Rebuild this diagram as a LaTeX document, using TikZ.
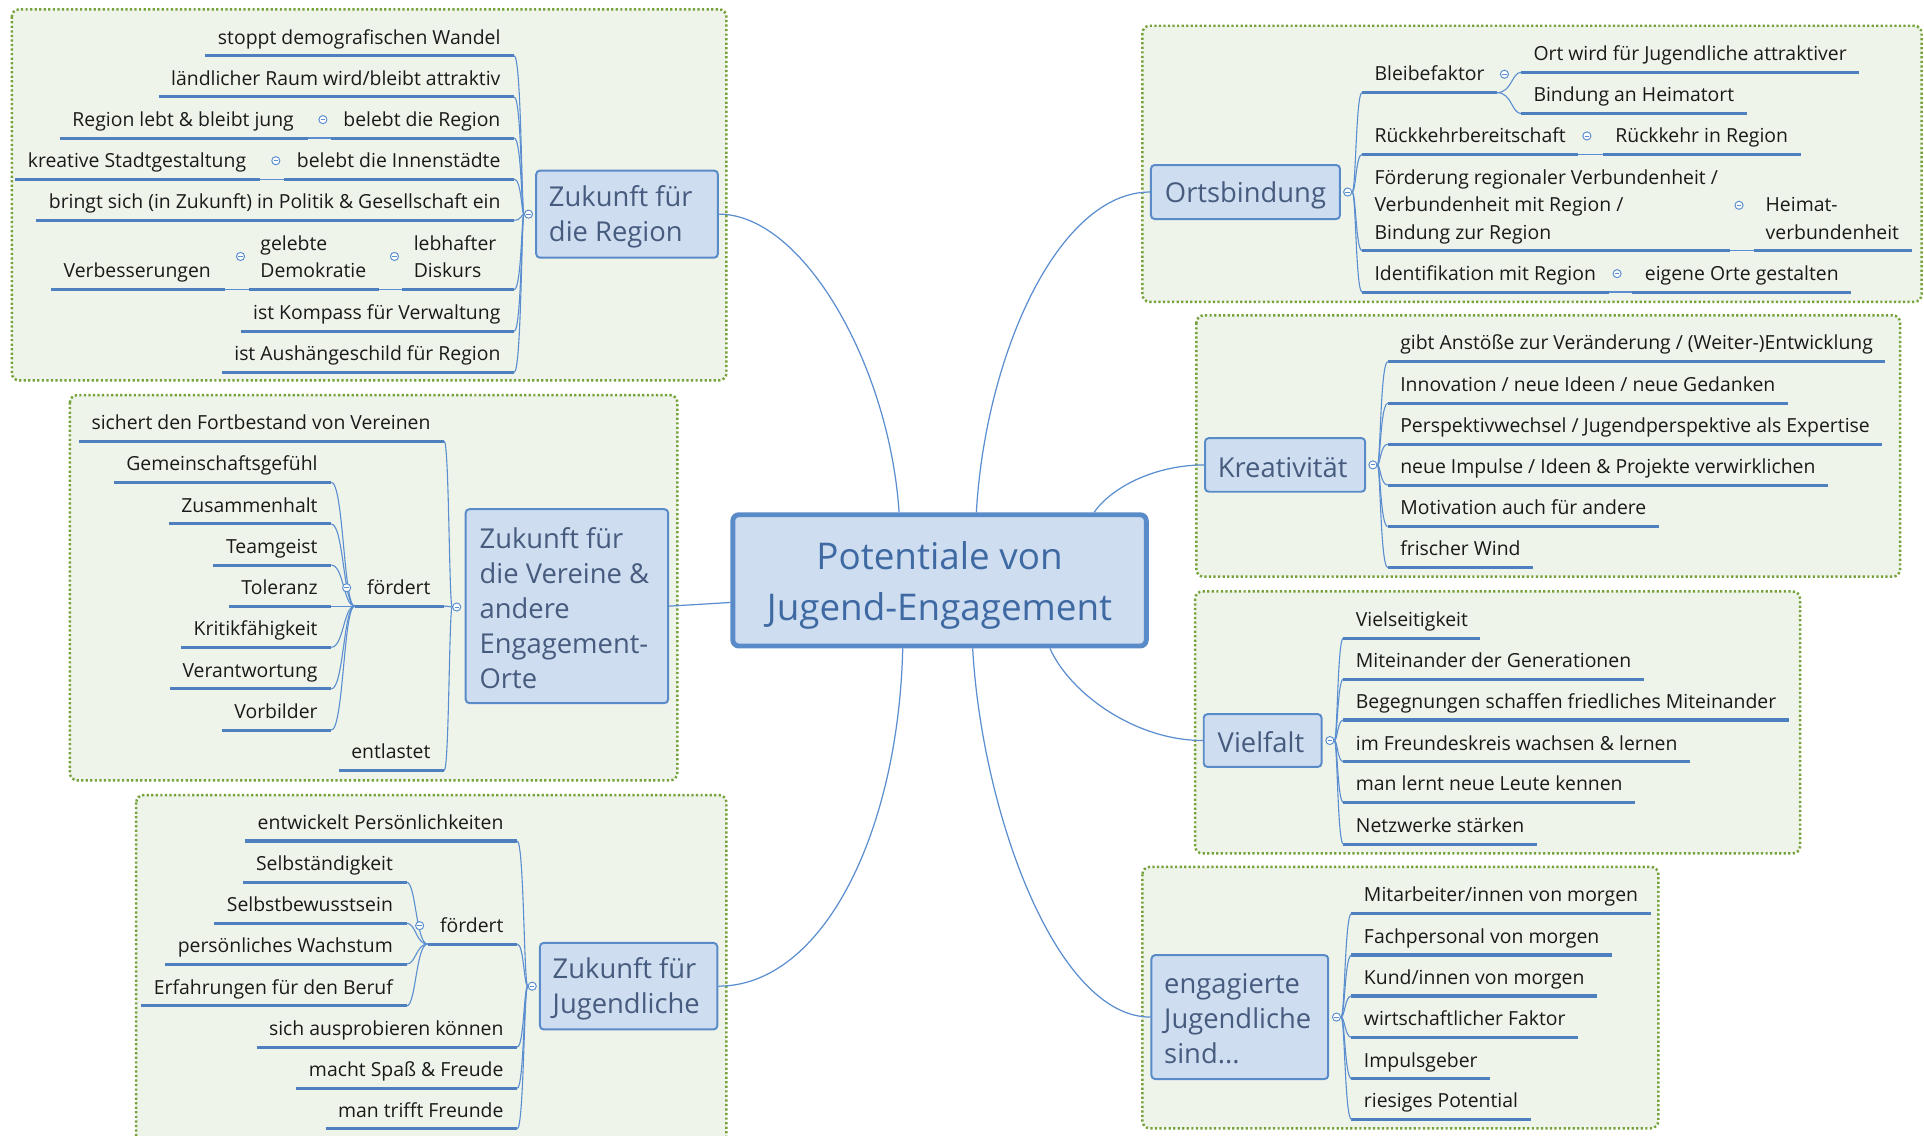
\documentclass[tikz,border=0pt]{standalone}
\usepackage{fontspec}
\setmainfont{Open Sans}
\usetikzlibrary{calc}
\definecolor{frameG}{HTML}{76A23C}
\definecolor{frameF}{HTML}{EFF4EA}
\definecolor{topF}{HTML}{CEDEF0}
\definecolor{topD}{HTML}{5A8BC9}
\definecolor{topT}{HTML}{465B7E}
\definecolor{cenT}{HTML}{3E69A2}
\definecolor{ulc}{HTML}{4E80C0}
\definecolor{thinc}{HTML}{5B8ED0}
\definecolor{leafT}{HTML}{1A1A1A}
\tikzset{
  grp/.style={draw=frameG, fill=frameF, line width=2pt, dash pattern=on 1.8pt off 1.9pt, rounded corners=6pt},
  topic/.style={draw=topD, fill=topF, line width=1.6pt, rounded corners=3pt, inner sep=0pt},
  ttext/.style={text=topT, font=\fontsize{22.3}{28.5}\selectfont, align=left, inner sep=0pt, anchor=west},
  central/.style={draw=topD, fill=topF, line width=4pt, rounded corners=5pt, inner sep=0pt},
  ctext/.style={inner sep=0pt, text=cenT, align=center, font=\fontsize{30}{42}\selectfont},
  leaf/.style={font=\fontsize{15.8}{22}\selectfont, text=leafT, inner sep=0pt},
  ul/.style={draw=ulc, line width=2.5pt},
  cn/.style={draw=thinc, line width=0.9pt},
  mcn/.style={draw=thinc, line width=1pt},
  coll/.style={circle, draw=thinc, fill=white, line width=0.8pt, minimum size=6.6pt, inner sep=0pt},
}
\newcommand\leafW[3]{%
  \coordinate (#1-l) at #2;
  \node[leaf, anchor=base west] (#1) at ($(#1-l)+(10,-9.5)$) {#3};
  \coordinate (#1-r) at ($(#1.base east)+(10,9.5)$);
  \draw[ul] (#1-l) -- (#1-r);}
\newcommand\leafE[3]{%
  \coordinate (#1-r) at #2;
  \node[leaf, anchor=base east] (#1) at ($(#1-r)+(-11,-9.5)$) {#3};
  \coordinate (#1-l) at ($(#1.base west)+(-10,9.5)$);
  \draw[ul] (#1-l) -- (#1-r);}
\newcommand\collmark[2]{%
  \node[coll] (#1) at #2 {};
  \draw[thinc, line width=0.7pt] ($(#1.center)+(-1.8,0)$) -- ($(#1.center)+(1.8,0)$);}
\newcommand\br[3]{\draw[cn] (#1) .. controls (#2 |- #1) and (#2 |- #3) .. (#3);}
\begin{document}
\begin{tikzpicture}[x=1pt,y=-1pt]
\useasboundingbox (0,0) rectangle (1568,925);
\clip (0,0) rectangle (1568,925);
\fill[white] (0,0) rectangle (1568,925);
% group frames
\draw[grp] (9.6,7.6) rectangle (592,310);
\draw[grp] (57,322) rectangle (552,636);
\draw[grp] (111,648) rectangle (592,945);
\draw[grp] (931,21) rectangle (1566,246);
\draw[grp] (975,257) rectangle (1548.5,470);
\draw[grp] (974,482) rectangle (1467,695.5);
\draw[grp] (931,706.5) rectangle (1351.5,919.5);
% central and topics
\node[central, minimum width=337, minimum height=107] (C) at (765.7,473) {};
\node[ctext] (Ct) at ($(C.center)+(0,4)$) {Potentiale von\\Jugend-Engagement};
\node[topic, minimum width=148, minimum height=71] (T1) at (511,174.5) {};
\node[ttext] (T1t) at ($(T1.west)+(11,2.5)$) {Zukunft für\\die Region};
\node[topic, minimum width=165, minimum height=158] (T2) at (462,494) {};
\node[ttext] (T2t) at ($(T2.west)+(12,1.5)$) {Zukunft für\\die Vereine \&\\andere\\Engagement-\\Orte};
\node[topic, minimum width=144.5, minimum height=70.5] (T3) at (512.3,803.7) {};
\node[ttext] (T3t) at ($(T3.west)+(11,2.5)$) {Zukunft für\\Jugendliche};
\node[topic, minimum width=154, minimum height=44] (T4) at (1015,156.5) {};
\node[ttext] (T4t) at ($(T4.west)+(12,2.5)$) {Ortsbindung};
\node[topic, minimum width=130.5, minimum height=43.7] (T5) at (1047.3,378.9) {};
\node[ttext] (T5t) at ($(T5.west)+(11,2)$) {Kreativität};
\node[topic, minimum width=96, minimum height=43] (T6) at (1029,603.5) {};
\node[ttext] (T6t) at ($(T6.west)+(12,1.5)$) {Vielfalt};
\node[topic, minimum width=144, minimum height=101] (T7) at (1010.4,828.9) {};
\node[ttext] (T7t) at ($(T7.west)+(11,1.5)$) {engagierte\\Jugendliche\\sind...};
% main connectors
\draw[mcn] ($(C.north)+(-33,0)$) .. controls (725,299) and (655,174.5) .. (T1.east);
\draw[mcn] ($(C.west)+(0,18)$) -- (T2.east);
\draw[mcn] ($(C.south)+(-30,0)$) .. controls (732,680) and (670,803.7) .. (T3.east);
\draw[mcn] ($(C.north)+(30,0)$) .. controls (803,290) and (862,156.5) .. (T4.west);
\draw[mcn] ($(C.north)+(126,0)$) .. controls (905,398) and (940,379) .. (T5.west);
\draw[mcn] ($(C.south)+(90,0)$) .. controls (872,565) and (925,603.5) .. (T6.west);
\draw[mcn] ($(C.south)+(27,0)$) .. controls (800,660) and (860,829) .. (T7.west);
% topic collapse markers
\collmark{k1}{($(T1.west)+(-5.5,0)$)}
\collmark{k2}{($(T2.west)+(-6.5,0.7)$)}
\collmark{k3}{($(T3.west)+(-5.5,0)$)}
\collmark{k4}{($(T4.east)+(5.5,0)$)}
\collmark{k5}{($(T5.east)+(5.5,0)$)}
\collmark{k6}{($(T6.east)+(6,0)$)}
\collmark{k7}{($(T7.east)+(6,0)$)}
% ---------- group 1
\coordinate (s1) at (425,0);
\leafE{L1a}{(419,45.4)}{stoppt demografischen Wandel}
\leafE{L1b}{(419,79)}{ländlicher Raum wird/bleibt attraktiv}
\leafE{L1c}{(419,112.5)}{belebt die Region}
\leafE{L1c1}{($(L1c-l)+(-19,0)$)}{Region lebt \& bleibt jung}
\draw[cn] (L1c-l) -- (L1c1-r);
\collmark{k1c}{($(L1c-l)+(-6.5,-15)$)}
\leafE{L1d}{(419,146)}{belebt die Innenstädte}
\leafE{L1d1}{($(L1d-l)+(-20,0)$)}{kreative Stadtgestaltung}
\draw[cn] (L1d-l) -- (L1d1-r);
\collmark{k1d}{($(L1d-l)+(-7,-15)$)}
\leafE{L1e}{(419,179.5)}{bringt sich (in Zukunft) in Politik \& Gesellschaft ein}
\coordinate (L1f-r) at (419,236);
\coordinate (L1f-l) at (328,236);
\node[leaf, anchor=base west] (L1f) at (337,204.5) {lebhafter};
\node[leaf, anchor=base west] (L1f2) at (337,226.5) {Diskurs};
\draw[ul] (L1f-l) -- (L1f-r);
\coordinate (L1g1-r) at (309,236);
\coordinate (L1g1-l) at (203,236);
\node[leaf, anchor=base west] (L1g1) at (212,204.5) {gelebte};
\node[leaf, anchor=base west] (L1g12) at (212,226.5) {Demokratie};
\draw[ul] (L1g1-l) -- (L1g1-r);
\draw[cn] (L1f-l) -- (L1g1-r);
\collmark{k1f}{(321.5,209)}
\leafE{L1v}{(183,236)}{Verbesserungen}
\draw[cn] (L1g1-l) -- (L1v-r);
\collmark{k1g}{(196,209)}
\leafE{L1g}{(419,270)}{ist Kompass für Verwaltung}
\leafE{L1h}{(419,303.5)}{ist Aushängeschild für Region}
\foreach \n in {L1a,L1b,L1c,L1d,L1e,L1f,L1g,L1h} {\br{k1.west}{s1}{\n-r}}
% ---------- group 2
\coordinate (s2) at (366,0);
\leafE{L2a}{(362,359.5)}{sichert den Fortbestand von Vereinen}
\leafE{L2b}{(362,494)}{fördert}
\leafE{L2c}{(362,628)}{entlastet}
\foreach \n in {L2a,L2b,L2c} {\br{k2.west}{s2}{\n-r}}
\coordinate (s2b) at (280,0);
\leafE{L2b1}{(270,393)}{Gemeinschaftsgefühl}
\leafE{L2b2}{(270,427)}{Zusammenhalt}
\leafE{L2b3}{(270,460.5)}{Teamgeist}
\leafE{L2b4}{(270,494)}{Toleranz}
\leafE{L2b5}{(270,527.5)}{Kritikfähigkeit}
\leafE{L2b6}{(270,561.4)}{Verantwortung}
\leafE{L2b7}{(270,595)}{Vorbilder}
\foreach \n in {1,...,7} {\br{L2b-l}{s2b}{L2b\n-r}}
\collmark{k2b}{($(L2b-l)+(-6.5,-15)$)}
% ---------- group 3
\coordinate (s3) at (427,0);
\leafE{L3a}{(421.5,685.4)}{entwickelt Persönlichkeiten}
\leafE{L3b}{(421.5,769.4)}{fördert}
\leafE{L3c}{(421.5,853.3)}{sich ausprobieren können}
\leafE{L3d}{(421.5,886.9)}{macht Spaß \& Freude}
\leafE{L3e}{(421.5,920)}{man trifft Freunde}
\foreach \n in {L3a,L3b,L3c,L3d,L3e} {\br{k3.west}{s3}{\n-r}}
\coordinate (s3b) at (339,0);
\leafE{L3b1}{(331.4,719)}{Selbständigkeit}
\leafE{L3b2}{(331.4,752.4)}{Selbstbewusstsein}
\leafE{L3b3}{(331.4,785.7)}{persönliches Wachstum}
\leafE{L3b4}{(331.4,819.8)}{Erfahrungen für den Beruf}
\foreach \n in {1,...,4} {\br{L3b-l}{s3b}{L3b\n-r}}
\collmark{k3b}{($(L3b-l)+(-6.5,-15)$)}
% ---------- group 4
\coordinate (s4) at (1105,0);
\leafW{L4a}{(1110,75.5)}{Bleibefaktor}
\coordinate (s4a) at ($(L4a-r)+(12,0)$);
\leafW{L4a1}{($(L4a-r)+(19.5,-16.5)$)}{Ort wird für Jugendliche attraktiver}
\leafW{L4a2}{($(L4a-r)+(19.5,17)$)}{Bindung an Heimatort}
\br{L4a-r}{s4a}{L4a1-l}
\br{L4a-r}{s4a}{L4a2-l}
\collmark{k4a}{($(L4a-r)+(6,-15)$)}
\leafW{L4b}{(1110,125.8)}{Rückkehrbereitschaft}
\leafW{L4b1}{($(L4b-r)+(20,0)$)}{Rückkehr in Region}
\draw[cn] (L4b-r) -- (L4b1-l);
\collmark{k4b}{($(L4b-r)+(7,-15)$)}
\coordinate (L4c-l) at (1110,204.3);
\node[leaf, anchor=base west] (L4c) at (1120,150.4) {Förderung regionaler Verbundenheit /};
\node[leaf, anchor=base west] (L4c2) at (1120,172.6) {Verbundenheit mit Region /};
\node[leaf, anchor=base west] (L4c3) at (1120,194.8) {Bindung zur Region};
\coordinate (L4c-r) at ($(L4c.base east |- L4c-l)+(10,0)$);
\draw[ul] (L4c-l) -- (L4c-r);
\coordinate (L4c1-l) at ($(L4c-r)+(19.5,0)$);
\node[leaf, anchor=base west] (L4c1) at ($(L4c1-l)+(9,-31.7)$) {Heimat-};
\node[leaf, anchor=base west] (L4c12) at ($(L4c1-l)+(9,-9.5)$) {verbundenheit};
\coordinate (L4c1-r) at ($(L4c12.base east |- L4c1-l)+(10,0)$);
\draw[ul] (L4c1-l) -- (L4c1-r);
\draw[cn] (L4c-r) -- (L4c1-l);
\collmark{k4c}{($(L4c-r)+(7,-37)$)}
\leafW{L4d}{(1110,238)}{Identifikation mit Region}
\leafW{L4d1}{($(L4d-r)+(19.5,0)$)}{eigene Orte gestalten}
\draw[cn] (L4d-r) -- (L4d1-l);
\collmark{k4d}{($(L4d-r)+(7,-15)$)}
\foreach \n in {L4a,L4b,L4c,L4d} {\br{k4.east}{s4}{\n-l}}
% ---------- group 5
\coordinate (s5) at (1125,0);
\leafW{L5a}{(1131,294.7)}{gibt Anstöße zur Veränderung / (Weiter-)Entwicklung}
\leafW{L5b}{(1131,328.7)}{Innovation / neue Ideen / neue Gedanken}
\leafW{L5c}{(1131,362)}{Perspektivwechsel / Jugendperspektive als Expertise}
\leafW{L5d}{(1131,395.3)}{neue Impulse / Ideen \& Projekte verwirklichen}
\leafW{L5e}{(1131,429.2)}{Motivation auch für andere}
\leafW{L5f}{(1131,462.6)}{frischer Wind}
\foreach \n in {L5a,L5b,L5c,L5d,L5e,L5f} {\br{k5.east}{s5}{\n-l}}
% ---------- group 6
\coordinate (s6) at (1090,0);
\leafW{L6a}{(1094.8,520)}{Vielseitigkeit}
\leafW{L6b}{(1094.8,553.4)}{Miteinander der Generationen}
\leafW{L6c}{(1094.8,586.8)}{Begegnungen schaffen friedliches Miteinander}
\leafW{L6d}{(1094.8,620.8)}{im Freundeskreis wachsen \& lernen}
\leafW{L6e}{(1094.8,653.9)}{man lernt neue Leute kennen}
\leafW{L6f}{(1094.8,687.9)}{Netzwerke stärken}
\foreach \n in {L6a,L6b,L6c,L6d,L6e,L6f} {\br{k6.east}{s6}{\n-l}}
% ---------- group 7
\coordinate (s7) at (1096,0);
\leafW{L7a}{(1101.4,744.4)}{Mitarbeiter/innen von morgen}
\leafW{L7b}{(1101.4,778.3)}{Fachpersonal von morgen}
\leafW{L7c}{(1101.4,811.7)}{Kund/innen von morgen}
\leafW{L7d}{(1101.4,845.4)}{wirtschaftlicher Faktor}
\leafW{L7e}{(1101.4,879.1)}{Impulsgeber}
\leafW{L7f}{(1101.4,912.3)}{riesiges Potential}
\foreach \n in {L7a,L7b,L7c,L7d,L7e,L7f} {\br{k7.east}{s7}{\n-l}}
\end{tikzpicture}
\end{document}
